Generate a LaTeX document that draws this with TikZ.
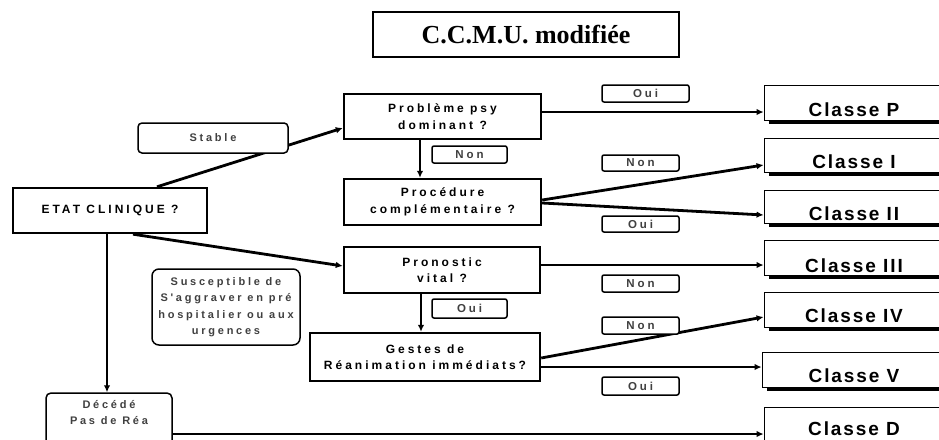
\documentclass[tikz,border=0pt]{standalone}
\usepackage{fontspec}
\setmainfont{Liberation Sans}
\newfontfamily\lsfont[LetterSpace=25]{Liberation Sans}
\newfontfamily\clsfont[LetterSpace=10]{Liberation Sans}
\newfontfamily\titlefont{Liberation Serif}
\usetikzlibrary{arrows.meta,shadows}
\tikzset{
  titlebox/.style={draw, line width=1.2pt, fill=white, inner sep=0pt, font=\titlefont\bfseries\fontsize{26}{30}\selectfont},
  mainbox/.style={draw, line width=2.4pt, fill=white, inner sep=0pt, align=center, font=\lsfont\bfseries\fontsize{12}{16.5}\selectfont},
  softbox/.style={draw, line width=1.5pt, fill=white, rounded corners=5pt, inner sep=0pt, align=center, font=\lsfont\bfseries\fontsize{11}{16.5}\selectfont, text=black!75},
  lab/.style={draw, line width=1.5pt, fill=white, rounded corners=2pt, inner sep=0pt, font=\lsfont\bfseries\fontsize{11.5}{12}\selectfont, text=black!75},
  classe/.style={draw, line width=0.8pt, fill=white, inner sep=0pt, minimum width=180pt,
    drop shadow={shadow xshift=5pt, shadow yshift=-3.5pt, fill=black, opacity=1}},
  ctext/.style={font=\clsfont\bfseries\fontsize{19}{22}\selectfont, inner sep=0pt},
  arr/.style={line width=2.8pt, -{Latex[length=7pt,width=6.5pt]}}
}
\begin{document}
\begin{tikzpicture}[x=1pt,y=-1pt]
\useasboundingbox (0,0) rectangle (939,439);
\clip (0,0) rectangle (939,439);

\node[titlebox, minimum width=306pt, minimum height=45pt] (title) at (526,34.5) {C.C.M.U. modifiée};
\node[mainbox, minimum width=194pt, minimum height=45pt] (etat) at (110,210.5) {ETAT CLINIQUE ?};
\node[mainbox, minimum width=197pt, minimum height=45pt] (prob) at (442.5,116.5) {Problème psy\\dominant ?};
\node[mainbox, minimum width=197pt, minimum height=46pt] (proc) at (442.5,202) {Procédure\\complémentaire ?};
\node[mainbox, minimum width=196pt, minimum height=46pt] (pron) at (442,270) {Pronostic\\vital ?};
\node[mainbox, minimum width=230pt, minimum height=48pt] (gest) at (425,357) {Gestes de\\Réanimation immédiats?};
\node[softbox, minimum width=126pt, minimum height=67pt,
  label={[softbox, draw=none, fill=none, yshift=14pt]center:{Décédé\\Pas de Réa}}] (dec) at (109,426.5) {};

\node[classe, minimum height=35pt, label={[ctext, yshift=-7.5pt]center:Classe P}] (cP) at (854,102.5) {};
\node[classe, minimum height=34pt, label={[ctext, yshift=-7pt]center:Classe I}] (cI) at (854,155) {};
\node[classe, minimum height=33pt, label={[ctext, yshift=-7.5pt]center:Classe II}] (cII) at (854,206.5) {};
\node[classe, minimum height=35pt, label={[ctext, yshift=-8pt]center:Classe III}] (cIII) at (854,257.5) {};
\node[classe, minimum height=35pt, label={[ctext, yshift=-6.5pt]center:Classe IV}] (cIV) at (854,309.5) {};
\node[classe, minimum height=35pt, minimum width=182pt, label={[ctext, yshift=-6.5pt, xshift=1pt]center:Classe V}] (cV) at (853,369.5) {};
\node[classe, minimum height=53pt, label={[ctext, yshift=5pt]center:Classe D}] (cD) at (854,433.5) {};

\draw[arr] ([xshift=47pt]etat.north) -- ([yshift=-11.5pt]prob.west);
\draw[arr] ([yshift=4.5pt]prob.east) -- ([yshift=4.5pt]prob.east -| cP.west);
\draw[arr] ([xshift=-22.5pt]prob.south) -- ([xshift=-22.5pt]prob.south |- proc.north);
\draw[arr] ([yshift=2pt]proc.east) -- ([yshift=-10pt]cI.west);
\draw[arr] ([yshift=-1pt]proc.east) -- ([yshift=-8.5pt]cII.west);
\draw[arr] ([xshift=23pt]etat.south) -- ([yshift=4pt]pron.west);
\draw[arr] ([yshift=5pt]pron.east) -- ([yshift=5pt]pron.east -| cIII.west);
\draw[arr] ([xshift=-21pt]pron.south) -- ([xshift=-21pt]pron.south |- gest.north);
\draw[arr] ([yshift=-1pt]gest.east) -- ([yshift=-7.5pt]cIV.west);
\draw[arr] ([yshift=-10pt]gest.east) -- ([yshift=-10pt]gest.east -| cV.west);
\draw[arr] ([xshift=-3pt]etat.south) -- ([xshift=-3pt]etat.south |- dec.north);
\draw[arr] ([yshift=-7.5pt]dec.east) -- ([yshift=-7.5pt]dec.east -| cD.west);

\node[softbox, rounded corners=4pt, minimum width=150pt, minimum height=30pt] (stable) at (213,138) {Stable};
\node[softbox, rounded corners=7pt, minimum width=148pt, minimum height=76pt] (susc) at (226,307) {Susceptible de\\S'aggraver en pré\\hospitalier ou aux\\urgences};
\node[lab, minimum width=75pt, minimum height=17pt] (non1) at (469.5,154.5) {Non};
\node[lab, minimum width=75pt, minimum height=19pt] (oui3) at (469.5,308.5) {Oui};
\node[lab, minimum width=87pt, minimum height=17pt] (oui1) at (645.5,93.5) {Oui};
\node[lab, minimum width=77pt, minimum height=16pt] (non2) at (640.5,163) {Non};
\node[lab, minimum width=77pt, minimum height=16pt] (oui2) at (640.5,224) {Oui};
\node[lab, minimum width=77pt, minimum height=17pt] (non3) at (640.5,283.5) {Non};
\node[lab, minimum width=77pt, minimum height=17pt] (non4) at (640.5,325.5) {Non};
\node[lab, minimum width=77pt, minimum height=18pt] (oui4) at (640.5,386) {Oui};
\end{tikzpicture}
\end{document}
